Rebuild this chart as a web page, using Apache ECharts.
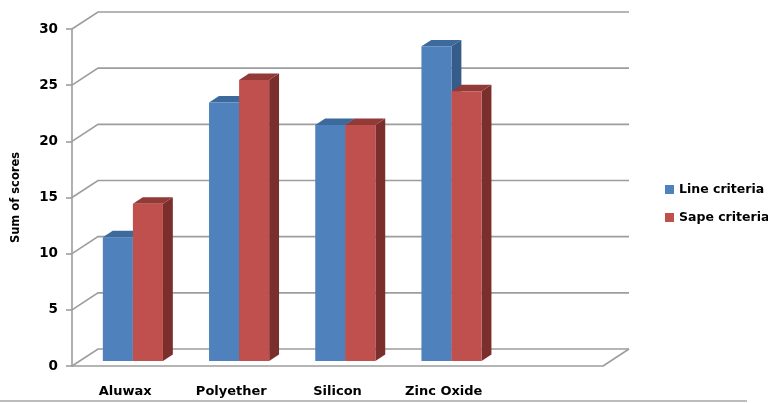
<!DOCTYPE html>
<html>
<head>
<meta charset="utf-8">
<script src="https://cdn.jsdelivr.net/npm/echarts@6/dist/echarts.min.js"></script>
<style>
  html, body { margin: 0; padding: 0; background: #fff; }
  #chart { width: 768px; height: 403px; }
</style>
</head>
<body>
<div id="chart"></div>
<script>
// Scores per material
const categories = ['Aluwax', 'Polyether', 'Silicon', 'Zinc Oxide', ''];
const lineCriteria = [11, 23, 21, 28];
const sapeCriteria = [14, 25, 21, 24];
const yTicks = [0, 5, 10, 15, 20, 25, 30];

// Pseudo-3D geometry (pixels / fractions of the category band)
const DEPTH = [26, -17];      // offset from the front plane to the back wall
const BAR_FRONT = 0.3;        // where the bar's front face sits in depth
const BAR_DEPTH = 0.38;       // how deep each bar is
const BAR_FRAC = 30 / 106;    // bar width relative to the category band

const FONT = 'DejaVu Sans';
const GRID_COLOR = '#9d9d9d';

const blueFaces = { front: '#4F81BD', top: '#3D6A9C', side: '#365C8A' };
const redFaces = { front: '#C0504D', top: '#913A37', side: '#7B2F2D' };

function barRender(side, faces) {
  return function (params, api) {
    const idx = api.value(0);
    const val = api.value(1);
    const base = api.coord([idx, 0]);
    const top = api.coord([idx, val]);
    const band = api.size([1, 0])[0];
    const w = band * BAR_FRAC;
    const fx = DEPTH[0] * BAR_FRONT, fy = DEPTH[1] * BAR_FRONT;
    const dx = DEPTH[0] * BAR_DEPTH, dy = DEPTH[1] * BAR_DEPTH;
    const x0 = base[0] + (side < 0 ? -w : 0) + fx;
    const x1 = x0 + w;
    const yb = base[1] + fy;
    const yt = top[1] + fy;
    return {
      type: 'group',
      children: [
        { type: 'polygon', shape: { points: [[x1, yb], [x1 + dx, yb + dy], [x1 + dx, yt + dy], [x1, yt]] },
          style: { fill: faces.side } },
        { type: 'polygon', shape: { points: [[x0, yt], [x1, yt], [x1 + dx, yt + dy], [x0 + dx, yt + dy]] },
          style: { fill: faces.top } },
        { type: 'rect', shape: { x: x0, y: yt, width: w, height: yb - yt },
          style: { fill: faces.front } }
      ]
    };
  };
}

// Side wall diagonals and back-wall gridlines, one per tick value
function wallRender(params, api) {
  const cs = params.coordSys;
  const t = api.value(1);
  const y = api.coord([0, t])[1];
  const L = cs.x, R = cs.x + cs.width;
  const lineStyle = { stroke: GRID_COLOR, lineWidth: 1.6, fill: null };
  const children = [
    { type: 'polyline', shape: { points: [[L, y], [L + DEPTH[0], y + DEPTH[1]], [R + DEPTH[0], y + DEPTH[1]]] },
      style: lineStyle }
  ];
  if (t === 0) {
    children.push({ type: 'line', shape: { x1: R, y1: y, x2: R + DEPTH[0], y2: y + DEPTH[1] }, style: lineStyle });
  }
  return { type: 'group', children: children };
}

const chart = echarts.init(document.getElementById('chart'));
chart.setOption({
  animation: false,
  backgroundColor: '#fff',
  grid: { left: 72, right: 165, top: 29, bottom: 37 },
  legend: {
    orient: 'vertical',
    left: 665,
    top: 183,
    padding: 0,
    itemWidth: 9,
    itemHeight: 9,
    itemGap: 15,
    icon: 'rect',
    textStyle: { fontFamily: FONT, fontWeight: 'bold', fontSize: 12.5, color: '#000' },
    data: ['Line criteria', 'Sape criteria']
  },
  xAxis: {
    type: 'category',
    data: categories,
    axisLine: { show: true, lineStyle: { color: GRID_COLOR, width: 1.6 } },
    axisTick: { show: false },
    splitLine: { show: false },
    axisLabel: { margin: 19, fontFamily: FONT, fontWeight: 'bold', fontSize: 13, color: '#000', interval: 0 }
  },
  yAxis: {
    type: 'value',
    min: 0,
    max: 30,
    interval: 5,
    name: 'Sum of scores',
    nameLocation: 'middle',
    nameRotate: 90,
    nameGap: 50,
    nameTextStyle: { fontFamily: FONT, fontWeight: 'bold', fontSize: 11.5, color: '#000' },
    axisLine: { show: true, lineStyle: { color: GRID_COLOR, width: 1.6 } },
    axisTick: { show: true, length: 6, lineStyle: { color: GRID_COLOR, width: 1.6 } },
    splitLine: { show: false },
    axisLabel: { margin: 14, fontFamily: FONT, fontWeight: 'bold', fontSize: 13.5, color: '#000' }
  },
  series: [
    {
      type: 'custom',
      name: 'walls',
      silent: true,
      z: 1,
      renderItem: wallRender,
      data: yTicks.map(t => [0, t])
    },
    {
      type: 'custom',
      name: 'Line criteria',
      z: 2,
      itemStyle: { color: blueFaces.front },
      renderItem: barRender(-1, blueFaces),
      data: lineCriteria.map((v, i) => [i, v])
    },
    {
      type: 'custom',
      name: 'Sape criteria',
      z: 3,
      itemStyle: { color: redFaces.front },
      renderItem: barRender(1, redFaces),
      data: sapeCriteria.map((v, i) => [i, v])
    }
  ],
  graphic: [
    { type: 'line', shape: { x1: 0, y1: 401, x2: 747, y2: 401 }, style: { stroke: '#a6a6a6', lineWidth: 1.5 } }
  ]
});
</script>
</body>
</html>
